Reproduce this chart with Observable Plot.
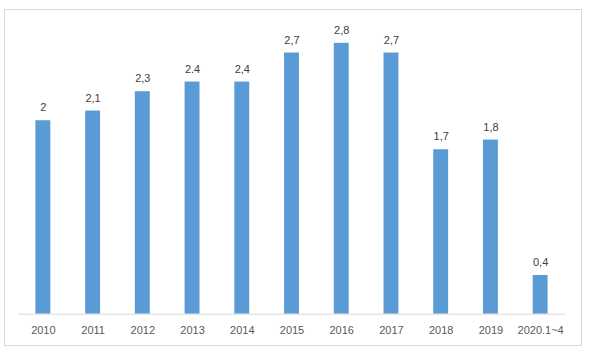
<!DOCTYPE html>
<html>
<head>
<meta charset="utf-8">
<script src="https://cdn.jsdelivr.net/npm/d3@7"></script>
<script src="https://cdn.jsdelivr.net/npm/@observablehq/plot@0.6"></script>
<style>
  body { margin: 0; background: #fff; }
  #wrap { position: relative; width: 590px; height: 352px; }
  #frame { position: absolute; left: 4px; top: 9px; width: 576px; height: 335px; border: 1px solid #d9d9d9; pointer-events: none; }
</style>
</head>
<body>
<div id="wrap"><div id="frame"></div></div>
<script>
const categories = ["2010","2011","2012","2013","2014","2015","2016","2017","2018","2019","2020.1~4"];
const values = [2, 2.1, 2.3, 2.4, 2.4, 2.7, 2.8, 2.7, 1.7, 1.8, 0.4];
const valueLabels = ["2","2,1","2,3","2.4","2,4","2,7","2,8","2,7","1,7","1,8","0,4"];

const data = categories.map((c, i) => ({cat: c, value: values[i], label: valueLabels[i]}));

const chart = Plot.plot({
  width: 590,
  height: 352,
  marginLeft: 18,
  marginRight: 25,
  marginTop: 23.5,
  marginBottom: 38.3,
  style: {fontFamily: "'Liberation Sans', Arial, sans-serif", fontSize: "11px", background: "transparent"},
  x: {domain: categories, paddingInner: 0.7, paddingOuter: 0.35, align: 0.5, round: false, label: null},
  y: {domain: [0, 3], axis: null},
  marks: [
    Plot.barY(data, {x: "cat", y: "value", fill: "#5b9bd5"}),
    Plot.ruleY([0], {stroke: "#d9d9d9", strokeWidth: 1}),
    Plot.text(data, {x: "cat", y: "value", text: "label", dy: -13, fill: "#404040", fontSize: 11}),
    Plot.axisX({tickSize: 0, tickPadding: 12, fill: "#595959", fontSize: 11, label: null})
  ]
});
document.getElementById("wrap").prepend(chart);
</script>
</body>
</html>
